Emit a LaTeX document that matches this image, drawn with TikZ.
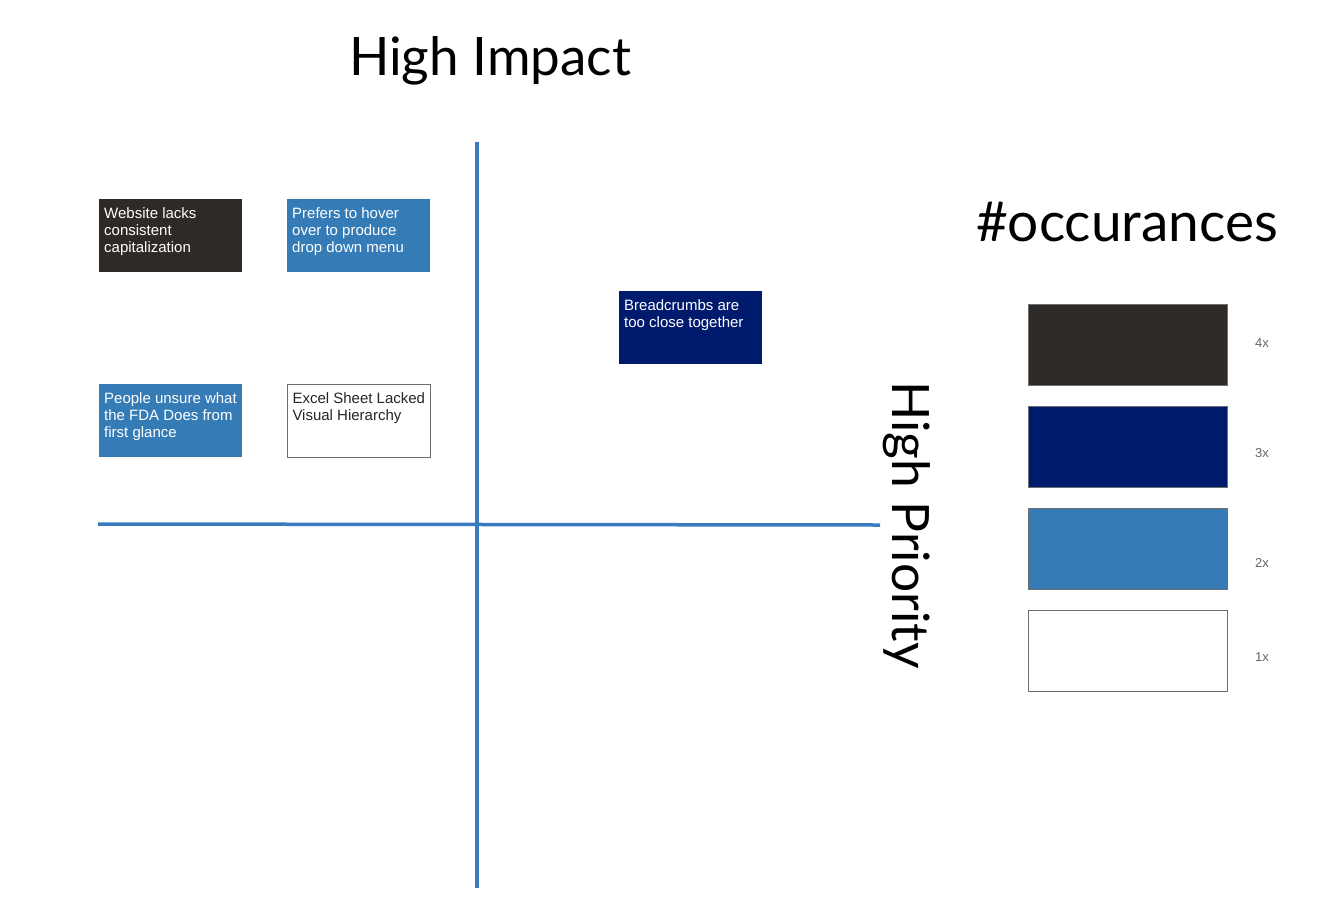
\documentclass[tikz,border=0pt]{standalone}
\usepackage{fontspec}
\setmainfont{Liberation Sans}
\newfontfamily\headfont{Lato}
\usetikzlibrary{positioning}
\definecolor{notedark}{HTML}{2D2A27}
\definecolor{notenavy}{HTML}{001A6E}
\definecolor{noteblue}{HTML}{357BB6}
\definecolor{axisblue}{HTML}{3A7BBF}
\definecolor{edgegray}{HTML}{6E6E6E}
\definecolor{countgray}{HTML}{666666}
\newcommand{\notetext}[1]{\parbox[t][63pt][t]{133pt}{\raggedright\rule{0pt}{14pt}#1}}
\begin{document}
\begin{tikzpicture}[x=1pt,y=-1pt,
    note/.style={anchor=north west,inner sep=5pt,minimum width=143pt,minimum height=73pt,
      text=white,font=\fontsize{15}{17}\selectfont},
    keybox/.style={anchor=north west,draw=edgegray,line width=1pt,minimum width=199pt,minimum height=81pt,inner sep=0pt},
    count/.style={text=countgray,font=\fontsize{13}{15}\selectfont},
    head/.style={font=\headfont\fontsize{#1}{60}\selectfont},
    axis/.style={draw=axisblue,line width=3.5pt}]
  \useasboundingbox (0,0) rectangle (1330,916);

  % axes
  \coordinate (top) at (477,142);
  \coordinate (bottom) at (477,888);
  \coordinate (left) at (98,524);
  \coordinate (right) at (880,525);
  \draw[axis] (top)--(bottom);
  \draw[axis] (left)--(right);

  \node[head=53] (impact) at (490,61) {High Impact};
  \node[head=51.5,rotate=-90] (priority) at (907,525) {High Priority};
  \node[head=55] (occur) at (1127,222) {\#occurances};

  % notes
  \node[note,fill=notedark] (website) at (99,199) {\notetext{Website lacks\\consistent\\capitalization}};
  \node[note,fill=noteblue] (hover) at (287,199) {\notetext{Prefers to hover\\over to produce\\drop down menu}};
  \node[note,fill=noteblue] (fda) at (99,384) {\notetext{People unsure what\\the FDA Does from\\first glance}};
  \node[note,fill=white,draw=edgegray,line width=1pt,text=black!85] (excel) at (287,384) {\notetext{Excel Sheet Lacked\\Visual Hierarchy}};
  \node[note,fill=notenavy] (crumbs) at (619,291) {\notetext{Breadcrumbs are\\too close together}};

  % key
  \foreach \c/\n/\y/\ly in {notedark/4/304/343,notenavy/3/406/453,noteblue/2/508/563,white/1/610/657}{
    \node[keybox,fill=\c] (key\n) at (1028,\y) {};
    \node[count] (count\n) at (1262,\ly) {\n x};
  }
\end{tikzpicture}
\end{document}
